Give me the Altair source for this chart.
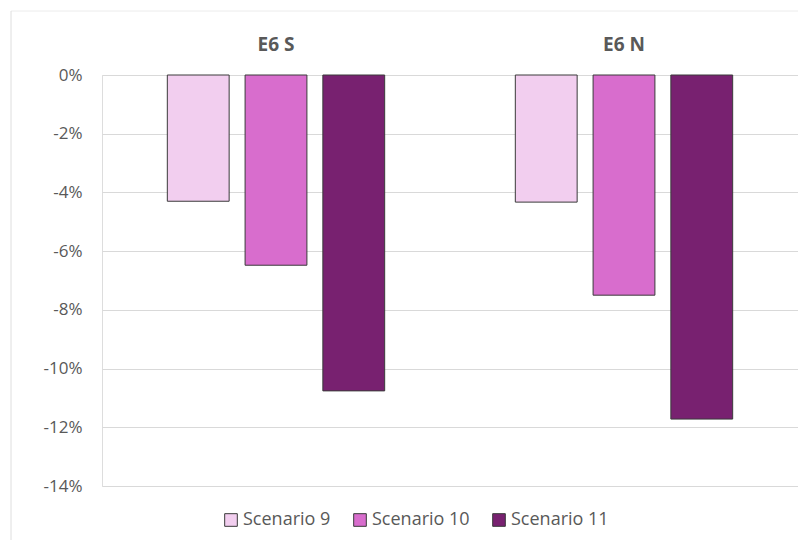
import altair as alt
import pandas as pd

# Relative change per zone and scenario
categories = ["E6 S", "E6 N"]
scenarios = ["Scenario 9", "Scenario 10", "Scenario 11"]
e6_s = [-0.0430, -0.0648, -0.1076]
e6_n = [-0.0433, -0.0750, -0.1172]
colors = ["#F2CEEF", "#D86DCD", "#782170"]
y_ticks = [0, -0.02, -0.04, -0.06, -0.08, -0.10, -0.12, -0.14]

rows = []
for cat, vals in zip(categories, [e6_s, e6_n]):
    for sc, v in zip(scenarios, vals):
        rows.append({"Category": cat, "Scenario": sc, "Value": v})
df = pd.DataFrame(rows)

FONT = "Open Sans"
TEXT = "#595959"

bars = alt.Chart(df).mark_bar(stroke="#3a3a3a", strokeWidth=1).encode(
    x=alt.X(
        "Category:N",
        sort=categories,
        scale=alt.Scale(paddingInner=0, paddingOuter=0),
        axis=alt.Axis(
            orient="top", title=None, labelAngle=0, domain=False, ticks=False,
            grid=False, labelFontWeight="bold", labelFontSize=19,
            labelColor=TEXT, labelFont=FONT, labelPadding=21,
        ),
    ),
    xOffset=alt.XOffset(
        "Scenario:N", sort=scenarios,
        scale=alt.Scale(paddingInner=0.205, paddingOuter=0.84),
    ),
    y=alt.Y(
        "Value:Q",
        scale=alt.Scale(domain=[-0.14, 0], nice=False, zero=True),
        axis=alt.Axis(
            title=None, values=y_ticks, domain=False, ticks=False,
            labelExpr="round(datum.value * 100) + '%'",
            labelFontSize=17, labelColor=TEXT, labelFont=FONT, labelPadding=20,
            gridColor="#d9d9d9", gridWidth=1,
        ),
    ),
    color=alt.Color(
        "Scenario:N", sort=scenarios,
        scale=alt.Scale(domain=scenarios, range=colors),
        legend=alt.Legend(
            title=None, orient="none", direction="horizontal",
            legendX=120, legendY=436, symbolType="square", symbolSize=160,
            symbolStrokeColor="#3a3a3a", symbolStrokeWidth=1, symbolOpacity=1,
            labelFontSize=18, labelColor=TEXT, labelFont=FONT,
            labelOffset=3, columnPadding=20,
        ),
    ),
)

frame = pd.DataFrame({"k": [0]})
top_edge = alt.Chart(frame).mark_rule(color="#ececec", strokeWidth=1).encode(
    x=alt.value(-91), x2=alt.value(800), y=alt.value(-64)
)
left_edge = alt.Chart(frame).mark_rule(color="#dedede", strokeWidth=1).encode(
    x=alt.value(-91), y=alt.value(-64), y2=alt.value(600)
)

chart = alt.layer(bars, top_edge, left_edge).properties(
    width=696, height=411,
    autosize=alt.AutoSizeParams(type="none"),
    padding={"left": 102, "top": 75, "right": 0, "bottom": 54},
).configure_view(stroke=None).configure(background="white")

chart.save("out.html", embed_options={"renderer": "svg", "actions": False})
